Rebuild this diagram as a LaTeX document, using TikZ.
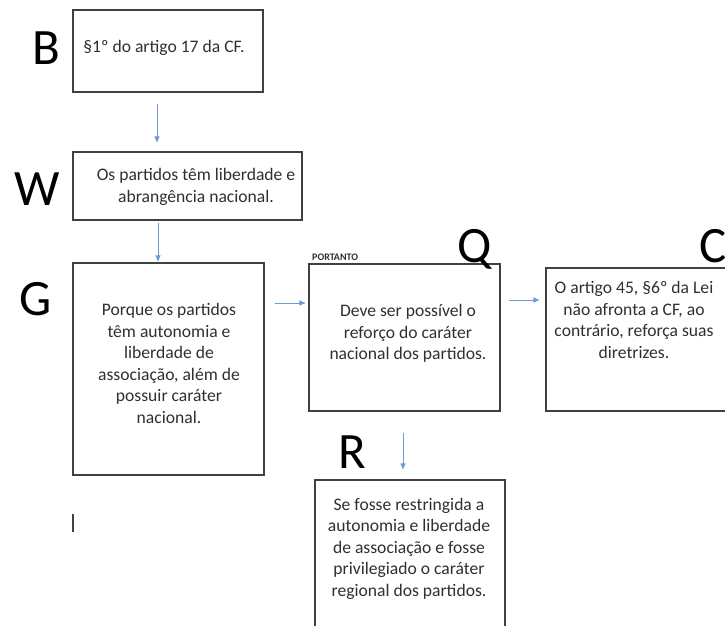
\documentclass[tikz,border=0pt]{standalone}
\usepackage{fontspec}
\setmainfont{Carlito}
\usetikzlibrary{arrows.meta}
\definecolor{arrowblue}{HTML}{6C9AD6}
\definecolor{boxline}{HTML}{404040}
\definecolor{txtgray}{HTML}{303030}
\begin{document}
\begin{tikzpicture}[x=1pt,y=-1pt,
  box/.style={draw=boxline, line width=1.1pt, rectangle, inner sep=0pt},
  txt/.style={align=center, text=txtgray, font=\fontsize{17.6}{21.5}\selectfont, inner sep=0pt},
  biglet/.style={font=\fontsize{51}{51}\selectfont, text=black, inner sep=0pt, anchor=base},
  small/.style={font=\bfseries\fontsize{10}{12}\selectfont, text=txtgray, inner sep=0pt, anchor=base west},
  arr/.style={draw=arrowblue, line width=0.8pt, -{Triangle[length=6pt,width=5pt]}}]
\useasboundingbox (0,0) rectangle (725,626);
\clip (0,0) rectangle (725,626);
\fill[white] (0,0) rectangle (725,626);
% boxes
\node[box, minimum width=190pt, minimum height=82pt] (b) at (168,51) {};
\node[box, minimum width=229pt, minimum height=68pt] (w) at (187.5,186) {};
\node[box, minimum width=191pt, minimum height=212pt] (g) at (168.5,369) {};
\node[box, minimum width=191pt, minimum height=147pt] (q) at (404.5,337.5) {};
\node[box, minimum width=191pt, minimum height=143pt] (c) at (641.5,339.5) {};
\node[box, minimum width=190pt, minimum height=160pt] (r) at (410,560) {};
% texts
\node[txt] (bt) at (164,48) {§1º do artigo 17 da CF.};
\node[txt] (wt) at (196,187) {Os partidos têm liberdade e\\abrangência nacional.};
\node[txt] (gt) at (169,363.5) {Porque os partidos\\têm autonomia e\\liberdade de\\associação, além de\\possuir caráter\\nacional.};
\node[txt] (qt) at (408,333.5) {Deve ser possível o\\reforço do caráter\\nacional dos partidos.};
\node[txt] (ct) at (634,320) {O artigo 45, §6º da Lei\\não afronta a CF, ao\\contrário, reforça suas\\diretrizes.};
\node[txt] (rt) at (409,548.5) {Se fosse restringida a\\autonomia e liberdade\\de associação e fosse\\privilegiado o caráter\\regional dos partidos.};
\node[small] (port) at (312,260) {PORTANTO};
% big letters
\node[biglet] (lb) at (46,65) {B};
\node[biglet] (lw) at (37,205) {W};
\node[biglet] (lg) at (36,315) {G};
\node[biglet] (lq) at (475,262) {Q};
\node[biglet] (lc) at (713,262) {C};
\node[biglet] (lr) at (352,468) {R};
% arrows
\draw[arr] ([xshift=-11pt,yshift=-11pt]b.south) -- ([xshift=-30.5pt,yshift=9pt]w.north);
\draw[arr] ([xshift=-29.5pt,yshift=-2pt]w.south) -- ([xshift=-10.5pt,yshift=1pt]g.north);
\draw[arr] ([xshift=10pt,yshift=66pt]g.east) -- ([xshift=-3pt,yshift=34.5pt]q.west);
\draw[arr] ([xshift=8pt,yshift=37.5pt]q.east) -- ([xshift=-6pt,yshift=39.5pt]c.west);
\draw[arr] ([xshift=-1.5pt,yshift=-21pt]q.south) -- ([xshift=-7pt,yshift=10pt]r.north);
% small mark
\coordinate (m1) at (73,514);
\coordinate (m2) at (73,532);
\draw[boxline, line width=1.2pt] (m1) -- (m2);
\end{tikzpicture}
\end{document}
